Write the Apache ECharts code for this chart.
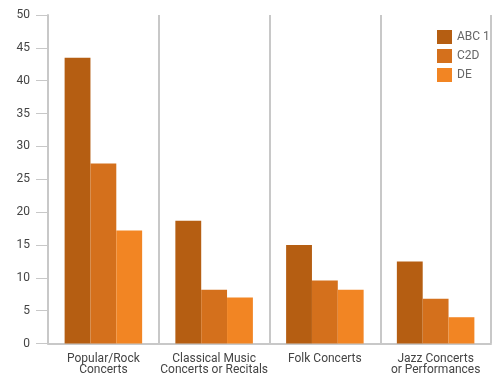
<!DOCTYPE html>
<html><head><meta charset="utf-8">
<script src="https://cdn.jsdelivr.net/npm/echarts@6/dist/echarts.min.js"></script>
<style>html,body{margin:0;padding:0;background:#fff}#c{width:494px;height:376px}</style>
</head><body><div id="c"></div>
<script>
var categories = ['Popular/Rock\nConcerts', 'Classical Music\nConcerts or Recitals', 'Folk Concerts', 'Jazz Concerts\nor Performances'];
var seriesNames = ['ABC 1', 'C2D', 'DE'];
var abc1 = [43.5, 18.7, 15.0, 12.5];
var c2d = [27.4, 8.2, 9.6, 6.8];
var de = [17.2, 7.0, 8.2, 4.0];
var colors = ['#b55e12', '#d4701c', '#f28523'];

var chart = echarts.init(document.getElementById('c'), null, {renderer: 'canvas'});
var font = 'Roboto, "Liberation Sans", sans-serif';
function mk(name, data, i) {
  return {name: name, type: 'bar', data: data, barGap: '0%', barCategoryGap: '30%',
    itemStyle: {color: colors[i]}, animation: false};
}
chart.setOption({
  animation: false,
  textStyle: {fontFamily: font},
  grid: {left: 48, right: 3, top: 15, bottom: 32, containLabel: false},
  legend: {orient: 'vertical', left: 432, top: 25, itemWidth: 15, itemHeight: 14, itemGap: 5,
    icon: 'rect', textStyle: {fontSize: 12, color: '#666', fontFamily: font},
    data: seriesNames},
  xAxis: {type: 'category', data: categories,
    axisLine: {lineStyle: {color: '#c8c8c8', width: 2}},
    axisTick: {show: false},
    splitLine: {show: true, interval: 0, lineStyle: {color: '#c8c8c8', width: 2}},
    axisLabel: {interval: 0, color: '#444', fontSize: 12, lineHeight: 11, margin: 10, fontFamily: font}},
  yAxis: {type: 'value', min: 0, max: 50, interval: 5,
    axisLine: {show: true, lineStyle: {color: '#c8c8c8', width: 2}},
    axisTick: {show: true, length: 12, lineStyle: {color: '#c8c8c8', width: 1}},
    splitLine: {show: false},
    axisLabel: {color: '#444', fontSize: 12, margin: 18, fontFamily: font}},
  series: [mk(seriesNames[0], abc1, 0), mk(seriesNames[1], c2d, 1), mk(seriesNames[2], de, 2)]
});
</script></body></html>
